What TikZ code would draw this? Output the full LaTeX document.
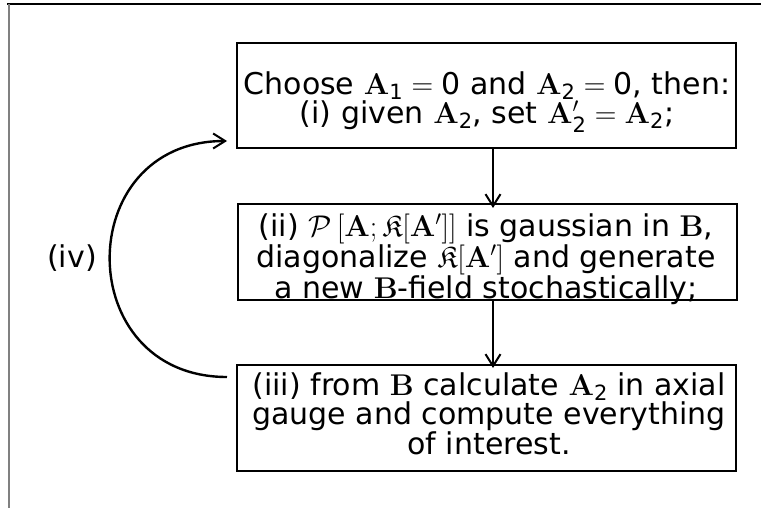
\RequirePackage{fix-cm}
\documentclass[tikz,border=0pt]{standalone}
\usepackage{amsmath,amssymb}
\DeclareFontFamily{U}{euf}{}
\DeclareFontShape{U}{euf}{m}{n}{<-6>eufm5<6-8>eufm7<8->eufm10}{}
\usepackage[no-math]{fontspec}
\setmainfont{DejaVu Sans}
\newcommand{\dg}[1]{\text{#1}}
\usetikzlibrary{arrows.meta}
\begin{document}
\begin{tikzpicture}[x=1pt,y=-1pt,
  stepbox/.style={draw,line width=2pt,inner sep=0pt},
  txt/.style={align=center,inner sep=0pt,font=\fontsize{30}{26}\selectfont},
  arr/.style={line width=2pt,-{Straight Barb[length=12pt,width=15pt,line width=2pt]}}]
\useasboundingbox (0,0) rectangle (761,508);
% frame
\draw[line width=1.5pt] (7,4) -- (761,4);
\draw[line width=2pt,gray] (9,4) -- (9,508);
% boxes
\node[stepbox,minimum width=499pt,minimum height=105pt] (b1) at (486.5,95.5) {};
\node[stepbox,minimum width=499pt,minimum height=96pt] (b2) at (487.5,252) {};
\node[stepbox,minimum width=499pt,minimum height=106pt] (b3) at (486.5,418) {};
% texts
\node[txt] (t1) at (487,102) {Choose $\mathbf{A}_{\dg{1}}=\dg{0}$ and $\mathbf{A}_{\dg{2}}=\dg{0}$, then:\\ (i) given $\mathbf{A}_{\dg{2}}$, set $\mathbf{A}_{\dg{2}}'=\mathbf{A}_{\dg{2}}$;};
\node[txt] (t2) at (486,259) {(ii) $\mathcal{P}\,[\mathbf{A};\mathfrak{K}[\mathbf{A}']]$ is gaussian in $\mathbf{B}$,\\ diagonalize $\mathfrak{K}[\mathbf{A}']$ and generate\\ a new $\mathbf{B}$-field stochastically;};
\node[txt] (t3) at (489,414) {(iii) from $\mathbf{B}$ calculate $\mathbf{A}_{\dg{2}}$ in axial\\ gauge and compute everything\\ of interest.};
\node[txt] (t4) at (72,258) {(iv)};
% connectors
\coordinate (ax) at (493,0);
\draw[arr] (b1.south -| ax) -- ([yshift=-5pt]b2.north -| ax);
\draw[arr] (b2.south -| ax) -- ([yshift=-4pt]b3.north -| ax);
\coordinate (s) at (227,377);
\coordinate (e) at (227,141);
\draw[arr,line width=2.4pt] (s) .. controls (71,377) and (71,141) .. (e);
\end{tikzpicture}
\end{document}
